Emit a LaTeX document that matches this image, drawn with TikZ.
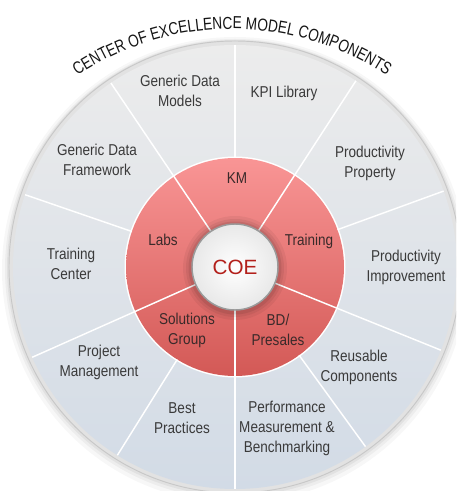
\documentclass[tikz,border=0pt]{standalone}
\usepackage{fontspec}
\setmainfont{Liberation Sans}[FakeStretch=0.86]
\newfontfamily\coefont{Liberation Sans}
\newfontfamily\mytitlefam{Liberation Sans}[FakeStretch=0.79]
\usetikzlibrary{decorations.text}
\definecolor{lbl}{HTML}{3A3A3A}
\definecolor{ilbl}{HTML}{3A2A2A}
\definecolor{titlecol}{HTML}{151515}
\definecolor{segtop}{HTML}{ECECEC}
\definecolor{segbot}{HTML}{D2DBE6}
\definecolor{rimfill}{HTML}{E2E2E2}
\definecolor{rimedge}{HTML}{C8C8C8}
\definecolor{redtop}{HTML}{F99595}
\definecolor{redbot}{HTML}{D35956}
\definecolor{coeedge}{HTML}{9A9A9A}
\definecolor{coetext}{HTML}{B3201B}
\newcommand\mytitlefont{\mytitlefam\fontsize{13}{15}\selectfont}
\tikzset{
  outerlbl/.style={align=center, inner sep=0pt, text=lbl, font=\fontsize{11.8}{15}\selectfont},
  innerlbl/.style={align=center, inner sep=0pt, text=ilbl, font=\fontsize{11.8}{15}\selectfont},
  divider/.style={draw=white, line width=1.1pt},
  coelbl/.style={inner sep=0pt, text=coetext, font=\coefont\fontsize{15.5}{18}\selectfont}
}
\begin{document}
\begin{tikzpicture}[x=0.75pt,y=0.75pt]
\useasboundingbox (-235,-224) rectangle (221,267);
\clip (-235,-224) rectangle (221,267);
% soft outer shadow
\fill[black,opacity=0.03] (0,-3) circle (233);
\fill[black,opacity=0.04] (0,-2) circle (230);
\fill[black,opacity=0.05] (0,-1) circle (228);
% rim and segments
\fill[rimfill] (0,0) circle (226);
\draw[rimedge, line width=0.7pt] (0,0) circle (226);
\shade[top color=segtop, bottom color=segbot] (0,0) circle (222);
% red ring
\fill[white] (0,0) circle (110.5);
\shade[top color=redtop, bottom color=redbot] (0,0) circle (109);
% dividers
\foreach \a in {90,20,-54,-122,161} \draw[divider] (\a:109) -- (\a:222);
\foreach \a in {124,57,-22,-90,-156} \draw[divider] (\a:43) -- (\a:222);
% COE shadow
\fill[black,opacity=0.05] (0,-1) circle (52);
\fill[black,opacity=0.06] (0,-1) circle (49);
\fill[black,opacity=0.08] (0,-1) circle (46.5);
% COE disc
\shade[inner color=white, outer color=gray!18] (0,0) circle (43);
\draw[coeedge, line width=1.1pt] (0,0) circle (43);
\node[coelbl] (coe) at (0,0) {COE};
% title
\path[decorate, decoration={text along path, text align=center,
  text={|\mytitlefont\color{titlecol}|CENTER OF EXCELLENCE MODEL COMPONENTS}}]
  (-3,-41) ++(130:279) arc[start angle=130, end angle=50, radius=279];
% inner labels
\node[innerlbl] (km) at (2,89) {KM};
\node[innerlbl] (labs) at (-72,27) {Labs};
\node[innerlbl] (training) at (74,26) {Training};
\node[innerlbl] (sg) at (-48,-63) {Solutions\\Group};
\node[innerlbl] (bd) at (43,-63) {BD/\\Presales};
% outer labels
\node[outerlbl] (gdm) at (-55,176) {Generic Data\\Models};
\node[outerlbl] (kpi) at (49,174) {KPI Library};
\node[outerlbl] (pp) at (135,104) {Productivity\\Property};
\node[outerlbl] (pi) at (171,0) {Productivity\\Improvement};
\node[outerlbl] (rc) at (124,-100) {Reusable\\Components};
\node[outerlbl] (pmb) at (52,-161) {Performance\\Measurement \&\\Benchmarking};
\node[outerlbl] (bp) at (-53,-151) {Best\\Practices};
\node[outerlbl] (pm) at (-136,-95) {Project\\Management};
\node[outerlbl] (tc) at (-164,3) {Training\\Center};
\node[outerlbl] (gdf) at (-138,107) {Generic Data\\Framework};
\end{tikzpicture}
\end{document}
